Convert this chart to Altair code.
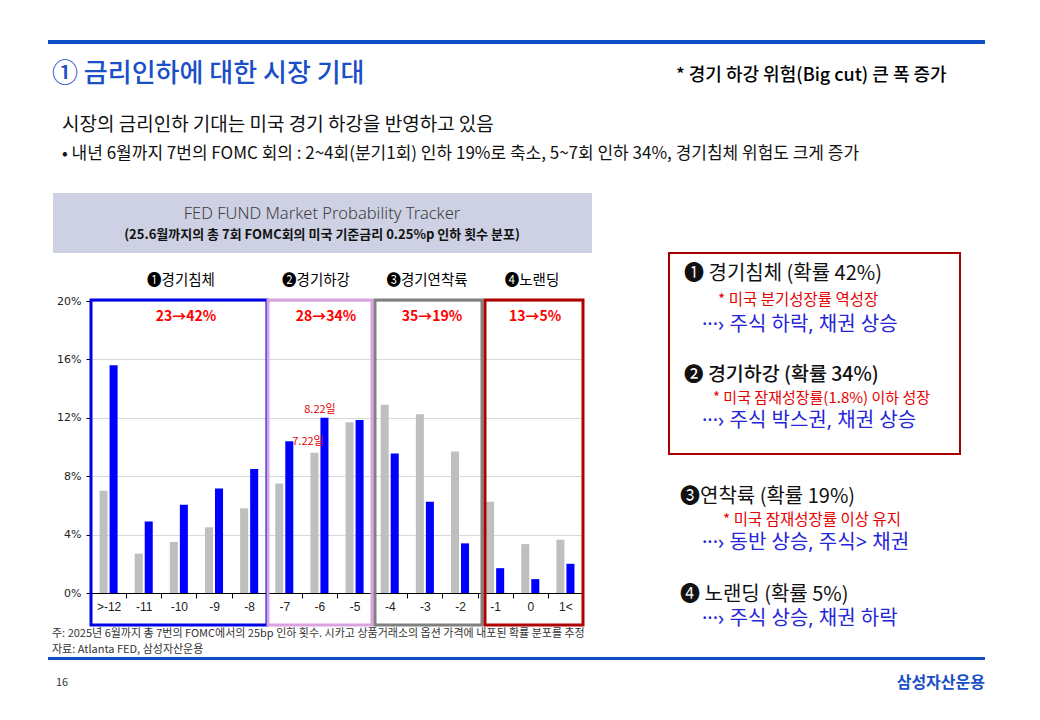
import altair as alt
import pandas as pd

# ---------------- data ----------------
categories = [">-12", "-11", "-10", "-9", "-8", "-7", "-6", "-5", "-4", "-3", "-2", "-1", "0", "1<"]
prev_values = [7.0, 2.7, 3.5, 4.5, 5.8, 7.5, 9.6, 11.7, 12.9, 12.25, 9.7, 6.25, 3.35, 3.65]
now_values = [15.6, 4.9, 6.05, 7.15, 8.5, 10.4, 12.0, 11.85, 9.55, 6.25, 3.4, 1.7, 0.95, 2.0]
series_names = ["prev", "now"]
y_ticks = [0, 0.04, 0.08, 0.12, 0.16, 0.20]

group_labels = ["❶경기침체", "❷경기하강", "❸경기연착륙", "❹노랜딩"]
group_changes = ["23→42%", "28→34%", "35→19%", "13→5%"]

rows = []
for c, p, n in zip(categories, prev_values, now_values):
    rows.append({"cat": c, "series": "prev", "value": p / 100})
    rows.append({"cat": c, "series": "now", "value": n / 100})
df = pd.DataFrame(rows)

# ---------------- layout ----------------
OX, OY = 91, 301          # screen position of plot area
W, H = 492, 292
TOTAL_W, TOTAL_H = 1024, 700

KR = "Noto Sans CJK KR"
MIX = "Noto Sans, Noto Sans CJK KR"
dummy = pd.DataFrame({"k": [0]})


def txt(s, x, y, size, color="#000000", weight="normal", align="left", font=KR):
    return alt.Chart(dummy).mark_text(
        text=s, fontSize=size, color=color, fontWeight=weight, align=align,
        baseline="middle", font=font
    ).encode(x=alt.value(x - OX), y=alt.value(y - OY))


def box(x1, y1, x2, y2, stroke=None, sw=2, fill=None):
    kw = {}
    if fill is not None:
        kw["fill"] = fill
    else:
        kw["fill"] = "#ffffff"
        kw["fillOpacity"] = 0
    if stroke is not None:
        kw["stroke"] = stroke
        kw["strokeWidth"] = sw
    return alt.Chart(dummy).mark_rect(**kw).encode(
        x=alt.value(x1 - OX), x2=alt.value(x2 - OX),
        y=alt.value(y1 - OY), y2=alt.value(y2 - OY))


# ---------------- bars ----------------
bars = alt.Chart(df).mark_bar().encode(
    x=alt.X("cat:N", sort=categories, title=None,
            scale=alt.Scale(paddingInner=0, paddingOuter=0),
            axis=alt.Axis(labelAngle=0, domainColor="#000000", tickColor="#000000",
                          tickSize=5, tickBand="extent", labelFontSize=12,
                          labelFont="Liberation Sans", labelColor="#222222",
                          labelPadding=3)),
    xOffset=alt.XOffset("series:N", sort=series_names,
                        scale=alt.Scale(paddingInner=0.2, paddingOuter=0.85)),
    y=alt.Y("value:Q", title=None, scale=alt.Scale(domain=[0, 0.2]),
            axis=alt.Axis(values=y_ticks, format=".0%", domainColor="#000000",
                          tickColor="#000000", tickSize=5, labelFontSize=11,
                          labelFont="DejaVu Sans", labelColor="#222222",
                          labelPadding=5, gridColor="#d9d9d9", gridWidth=1)),
    color=alt.Color("series:N", legend=None,
                    scale=alt.Scale(domain=series_names, range=["#bfbfbf", "#0000ff"])),
)

layers = []
# header
layers.append(box(48, 40, 985, 44, fill="#0f4fc6"))
layers.append(txt("① 금리인하에 대한 시장 기대", 52, 74, 26, "#1a4fc8", weight=500))
layers.append(txt("* 경기 하강 위험(Big cut) 큰 폭 증가", 676, 76, 18, "#000000", weight=500))
layers.append(txt("시장의 금리인하 기대는 미국 경기 하강을 반영하고 있음", 62, 125, 19, "#111111"))
layers.append(txt("• 내년 6월까지 7번의 FOMC 회의 : 2~4회(분기1회)  인하 19%로 축소, 5~7회 인하 34%, 경기침체 위험도 크게 증가",
                  62, 154, 17, "#111111"))

# chart title band
layers.append(box(53, 193, 592, 253, fill="#cdd1e3"))
layers.append(txt("FED FUND Market Probability Tracker", 322, 214, 16.5, "#404040", weight=300,
                  align="center", font="Noto Sans"))
layers.append(txt("(25.6월까지의 총 7회 FOMC회의 미국 기준금리 0.25%p 인하 횟수 분포)", 322, 235, 13, "#111111",
                  weight="bold", align="center"))

layers.append(bars)

# group boxes
layers.append(box(91, 300, 267, 625, stroke="#0000e6", sw=3))
layers.append(box(268, 300, 372, 625, stroke="#d9a3df", sw=3))
layers.append(box(375, 300, 482, 625, stroke="#808080", sw=3))
layers.append(box(485, 300, 583, 625, stroke="#b00000", sw=3))

# group labels and changes
for lab, cx in zip(group_labels, [181, 316, 427, 532]):
    layers.append(txt(lab, cx, 281, 14.5, "#000000", align="center"))
for chg, cx in zip(group_changes, [186, 326, 432, 535]):
    layers.append(txt(chg, cx, 317, 14, "#ff0000", weight="bold", align="center"))

layers.append(txt("8.22일", 320, 410, 11, "#e00000", align="center"))
layers.append(txt("7.22일", 308, 442, 11, "#e00000", align="center"))

# footnotes
layers.append(txt("주: 2025년 6월까지 총 7번의 FOMC에서의 25bp 인하 횟수. 시카고 상품거래소의 옵션 가격에 내포된 확률 분포를 추정",
                  52, 634, 11, "#333333"))
layers.append(txt("자료: Atlanta FED, 삼성자산운용", 52, 650, 11, "#333333"))
layers.append(box(48, 657, 985, 660, fill="#0f4fc6"))
layers.append(txt("16", 56, 683, 11, "#333333"))
layers.append(txt("삼성자산운용", 985, 683, 16, "#1a4fc8", weight="bold", align="right"))

# right panel
layers.append(box(669, 253, 960, 454, stroke="#a80000", sw=2))
BLUE_T = "#2626d9"
RED_T = "#e60000"
layers.append(txt("❶ 경기침체 (확률 42%)", 684, 274, 20, "#111111"))
layers.append(txt("* 미국 분기성장률 역성장", 718, 300, 15.5, RED_T))
layers.append(txt("···› 주식 하락, 채권 상승", 702, 325, 20, BLUE_T, font=MIX))
layers.append(txt("❷ 경기하강  (확률 34%)", 684, 375, 19.5, "#111111", weight=500))
layers.append(txt("* 미국 잠재성장률(1.8%) 이하 성장", 713, 398, 15, RED_T))
layers.append(txt("···› 주식 박스권, 채권 상승", 702, 421, 20, BLUE_T, font=MIX))
layers.append(txt("❸연착륙 (확률 19%)", 680, 497, 20, "#111111"))
layers.append(txt("* 미국 잠재성장률 이상 유지", 723, 520, 15.5, RED_T))
layers.append(txt("···› 동반 상승, 주식> 채권", 702, 543, 20, BLUE_T, font=MIX))
layers.append(txt("❹ 노랜딩 (확률 5%)", 680, 595, 20, "#111111"))
layers.append(txt("···› 주식 상승, 채권 하락", 702, 619, 20, BLUE_T, font=MIX))

chart = alt.layer(*layers).properties(
    width=W, height=H,
    autosize=alt.AutoSizeParams(type="none"),
    padding={"left": OX - 8, "top": OY - 8,
             "right": TOTAL_W - (OX - 8) - W, "bottom": TOTAL_H - (OY - 8) - H},
    background="#ffffff",
).configure_view(strokeWidth=0)

chart.save("out.html", embed_options={"renderer": "svg", "actions": False})
